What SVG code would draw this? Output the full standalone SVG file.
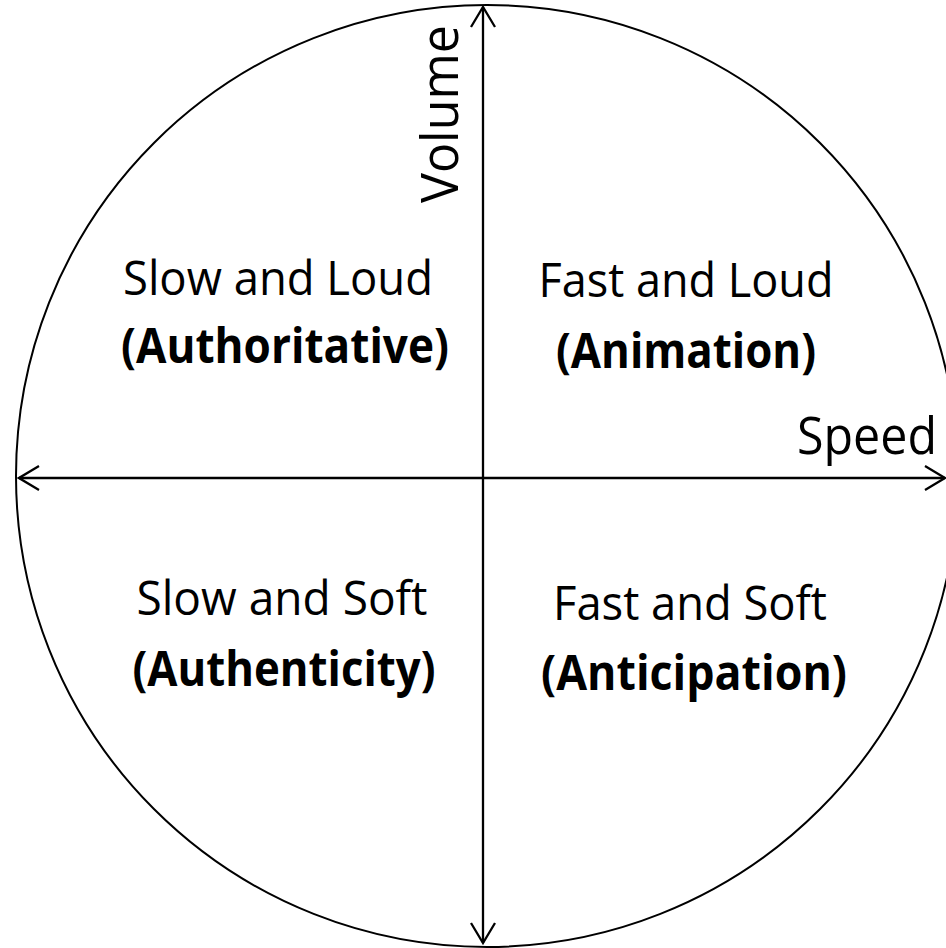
<svg xmlns="http://www.w3.org/2000/svg" width="946" height="948" viewBox="0 0 946 948">
  <style>
    .lbl { font-family: "Open Sans", "Noto Sans", "DejaVu Sans", sans-serif; font-size: 48px; fill: #000; text-anchor: middle; }
    .bold { font-weight: bold; font-size: 49px; }
    .axis-lbl { font-family: "Open Sans", "Noto Sans", "DejaVu Sans", sans-serif; font-size: 51px; fill: #000; text-anchor: middle; }
    .axis { stroke: #000; stroke-width: 2.3; fill: none; }
  </style>
  <defs>
    <marker id="arrow" viewBox="-24 -15 26 30" refX="0" refY="0" markerWidth="26" markerHeight="30" markerUnits="userSpaceOnUse" orient="auto-start-reverse">
      <path d="M-20,-12 L0,0 L-20,12" fill="none" stroke="#000" stroke-width="2.3"/>
    </marker>
  </defs>
  <rect x="0" y="0" width="946" height="948" fill="#fff"/>
  <g id="circle">
    <circle cx="487" cy="476" r="471" fill="none" stroke="#000" stroke-width="2"/>
  </g>
  <g id="connectors">
    <line class="axis" x1="19" y1="478" x2="945" y2="478" marker-start="url(#arrow)" marker-end="url(#arrow)"/>
    <line class="axis" x1="483" y1="943" x2="483" y2="7" marker-start="url(#arrow)" marker-end="url(#arrow)"/>
  </g>
  <g id="axis-speed">
    <text class="axis-lbl" x="867" y="454" textLength="140" lengthAdjust="spacingAndGlyphs">Speed</text>
  </g>
  <g id="axis-volume">
    <text class="axis-lbl" transform="translate(458,114) rotate(-90)" x="0" y="0" textLength="178" lengthAdjust="spacingAndGlyphs">Volume</text>
  </g>
  <g id="slow-loud">
    <text class="lbl" x="278" y="295" textLength="310" lengthAdjust="spacingAndGlyphs">Slow and Loud</text>
    <text class="lbl bold" x="285" y="363" textLength="328" lengthAdjust="spacingAndGlyphs">(Authoritative)</text>
  </g>
  <g id="fast-loud">
    <text class="lbl" x="686" y="297" textLength="295" lengthAdjust="spacingAndGlyphs">Fast and Loud</text>
    <text class="lbl bold" x="686" y="368" textLength="260" lengthAdjust="spacingAndGlyphs">(Animation)</text>
  </g>
  <g id="slow-soft">
    <text class="lbl" x="282" y="615" textLength="291" lengthAdjust="spacingAndGlyphs">Slow and Soft</text>
    <text class="lbl bold" x="284" y="686" textLength="303" lengthAdjust="spacingAndGlyphs">(Authenticity)</text>
  </g>
  <g id="fast-soft">
    <text class="lbl" x="690" y="620" textLength="274" lengthAdjust="spacingAndGlyphs">Fast and Soft</text>
    <text class="lbl bold" x="694" y="690" textLength="306" lengthAdjust="spacingAndGlyphs">(Anticipation)</text>
  </g>
</svg>
